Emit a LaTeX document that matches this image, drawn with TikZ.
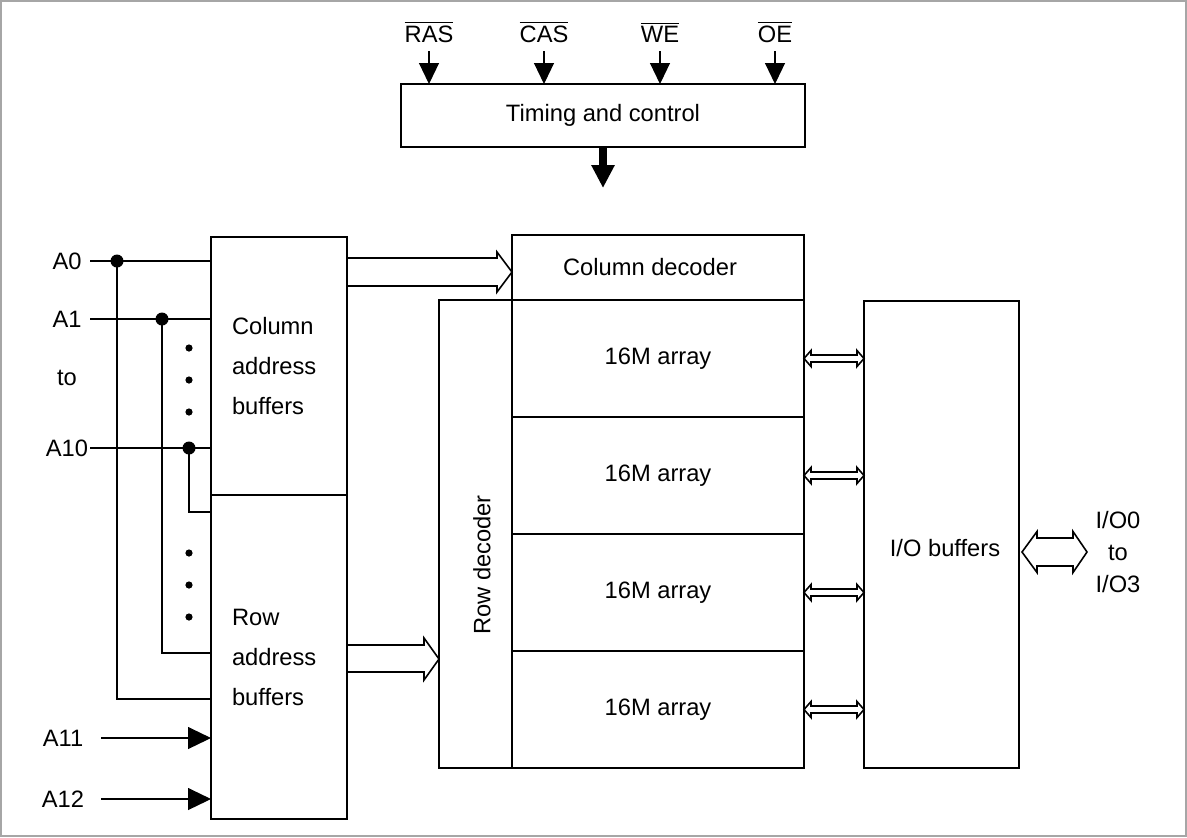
\documentclass[tikz,border=0pt]{standalone}
\usepackage{fontspec}
\setmainfont{Liberation Sans}
\usetikzlibrary{arrows.meta,positioning}

\begin{document}
\begin{tikzpicture}[x=0.5pt,y=-0.5pt,
  font=\fontsize{11.85}{20}\selectfont,
  box/.style={draw,line width=1pt,inner sep=0pt,outer sep=0pt},
  wire/.style={line width=0.55pt},
  bus/.style={line width=0.8pt,line join=miter},
  lpin/.style={minimum width=23pt,inner sep=0pt},
  rpin/.style={minimum width=38pt,inner sep=0pt},
  jdot/.style={circle,fill,inner sep=0pt,minimum size=6.5pt},
  sdot/.style={circle,fill,inner sep=0pt,minimum size=3.6pt},
  ctl/.style={wire,-{Triangle[length=10.5pt,width=10pt]}}]
  \useasboundingbox (0,0) rectangle (1187,837);
  \draw[gray!70,line width=0.6pt] (1,1) rectangle (1186,836);

  % timing and control
  \node[box,minimum width=202pt,minimum height=31.5pt] (timing) at (603,115.5)
    {Timing and control};
  \node (ras) at (429,32) {$\overline{\mbox{RAS}}$};
  \node (cas) at (544,32) {$\overline{\mbox{CAS}}$};
  \node (we) at (660,32) {$\overline{\mbox{WE}}$};
  \node (oe) at (775,32) {$\overline{\mbox{OE}}$};
  \draw[ctl] (ras |- 0,51) -- (ras |- timing.north);
  \draw[ctl] (cas |- 0,51) -- (cas |- timing.north);
  \draw[ctl] (we |- 0,51) -- (we |- timing.north);
  \draw[ctl] (oe |- 0,51) -- (oe |- timing.north);
  \coordinate (clk) at (603,188);
  \draw[line width=4pt,-{Triangle[length=11.5pt,width=11pt]}] (timing.south) -- (clk);

  % memory array
  \node[box,minimum width=146pt,minimum height=32.5pt] (coldec) at (658,267.5) {};
  \node (coldectxt) at (650,267) {Column decoder};
  \node[box,minimum width=146pt,minimum height=58.5pt,below=0pt of coldec] (arr1) {16M array};
  \node[box,minimum width=146pt,minimum height=58.5pt,below=0pt of arr1] (arr2) {16M array};
  \node[box,minimum width=146pt,minimum height=58.5pt,below=0pt of arr2] (arr3) {16M array};
  \node[box,minimum width=146pt,minimum height=58.5pt,below=0pt of arr3] (arr4) {16M array};
  \node[box,minimum width=36.5pt,minimum height=234pt,anchor=north east] (rowdec)
    at (arr1.north west) {};
  \node[rotate=90] (rowdectxt) at (482,565) {Row decoder};

  % address buffers
  \node[box,minimum height=129pt,text width=47pt,inner xsep=10.5pt,align=left,
    anchor=north west] (colbuf) at (211,237) {Column\\address\\buffers};
  \node[box,minimum height=162pt,text width=47pt,inner xsep=10.5pt,align=left,
    below=0pt of colbuf] (rowbuf) {Row\\address\\buffers};

  % I/O buffers
  \node[box,minimum width=77.5pt,minimum height=233.5pt,anchor=north west] (iobuf)
    at (864,300.5) {};
  \node (iobuftxt) at (945,548) {I/O buffers};
  \node[align=center,font=\fontsize{11.85}{16}\selectfont] (io) at (1118,552)
    {I/O0\\to\\I/O3};

  % address pins
  \node[lpin] (a0) at (67,261) {A0};
  \node[lpin] (a1) at (67,319) {A1};
  \node (to) at (67,378) {to};
  \node[lpin] (a10) at (67,448) {A10};
  \node[rpin] (a11) at (63,738) {A11};
  \node[rpin] (a12) at (63,799) {A12};
  \node[jdot] (j0) at (117,261) {};
  \node[jdot] (j1) at (162,319) {};
  \node[jdot] (j10) at (189,448) {};
  \foreach \y in {348,380,412,553,585,617}
    \node[sdot] (d\y) at (189,\y) {};

  \draw[wire] (a0.east) -- (colbuf.west |- a0.east);
  \draw[wire] (a1.east) -- (colbuf.west |- a1.east);
  \draw[wire] (a10.east) -- (colbuf.west |- a10.east);
  \draw[wire] (j0.center) |- (rowbuf.west |- 0,699);
  \draw[wire] (j1.center) |- (rowbuf.west |- 0,653);
  \draw[wire] (j10.center) |- (rowbuf.west |- 0,512);
  \draw[wire,-{Triangle[length=11.5pt,width=11pt]}] (a11.east) -- (rowbuf.west |- a11.east);
  \draw[wire,-{Triangle[length=11.5pt,width=11pt]}] (a12.east) -- (rowbuf.west |- a12.east);

  % buses
  \draw[bus] (colbuf.east |- 0,258) -- (497,258) -- (497,252) -- (coldec.west |- 0,272)
    -- (497,292) -- (497,286) -- (colbuf.east |- 0,286);
  \draw[bus] (rowbuf.east |- 0,645) -- (424,645) -- (424,638) -- (rowdec.west |- 0,659)
    -- (424,680) -- (424,672) -- (rowbuf.east |- 0,672);
  \foreach \n in {arr1,arr2,arr3,arr4}
    \draw[bus] (\n.east) -- ++(7,-8) -- ++(0,4.5) -- ++(46,0) -- ++(0,-4.5) -- ++(7,8)
      -- ++(-7,8) -- ++(0,-4.5) -- ++(-46,0) -- ++(0,4.5) -- cycle;
  \draw[bus] (iobuf.east |- io.center) ++(3,0) -- ++(15,-20.5) -- ++(0,6.5) -- ++(36,0)
    -- ++(0,-6.5) -- ++(14,20.5) -- ++(-14,20.5) -- ++(0,-6.5) -- ++(-36,0) -- ++(0,6.5)
    -- cycle;
\end{tikzpicture}
\end{document}
